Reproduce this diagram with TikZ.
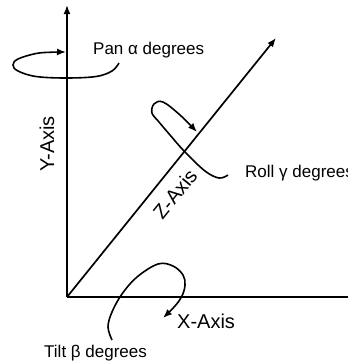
\documentclass[tikz,border=0pt]{standalone}
\usepackage{fontspec}
\setmainfont{Liberation Sans}
\usetikzlibrary{arrows.meta}
\begin{document}
\begin{tikzpicture}[x=1pt,y=-1pt,
  axis/.style={line width=1.7pt},
  tipped/.style={-{Latex[length=9pt,width=7pt]}},
  rot/.style={line width=1.6pt, tipped},
  lbl/.style={font=\fontsize{17}{20}\selectfont, inner sep=0pt},
  axlbl/.style={font=\fontsize{20}{24}\selectfont, inner sep=0pt}]
\useasboundingbox (0,0) rectangle (348,362);
\clip (0,0) rectangle (348,362);
\coordinate (O) at (67,297);
\coordinate (Ytip) at (67,5);
\coordinate (Xend) at (352,297);
\coordinate (Ztip) at (276,38);
% axes
\draw[axis,tipped] (O) -- (Ytip);
\draw[axis] (O) -- (Xend);
\draw[axis,tipped] (O) -- (Ztip);
% pan rotation
\draw[rot] plot[smooth, tension=0.6] coordinates
  {(119,63) (112,71) (96,76.5) (66,78) (36,76.5) (18,71) (13,65) (18,59) (36,53.5) (52,52.2) (66,52)};
% roll rotation
\draw[rot] plot[smooth, tension=0.6] coordinates
  {(228,175) (219,178) (205,171) (185,152) (170,135) (159,122) (152,113) (154,104) (163,102) (180,115) (197,132)};
% tilt rotation
\draw[rot] plot[smooth, tension=0.6] coordinates
  {(112,340) (108,327) (112,312) (122,294) (137,277) (158,264) (173,266) (183,275) (185,285) (182,296) (175,306) (163,318)};
% labels
\node[lbl, anchor=base west] (pan) at (93,54) {Pan α degrees};
\node[lbl, anchor=base west] (roll) at (245,177) {Roll γ degrees};
\node[lbl, anchor=base west] (tilt) at (44,357) {Tilt β degrees};
\node[axlbl, anchor=base west] (xl) at (177,328) {X-Axis};
\node[axlbl, rotate=90] (yl) at (47,144) {Y-Axis};
\node[axlbl, rotate=51] (zl) at (175,194) {Z-Axis};
\end{tikzpicture}
\end{document}
